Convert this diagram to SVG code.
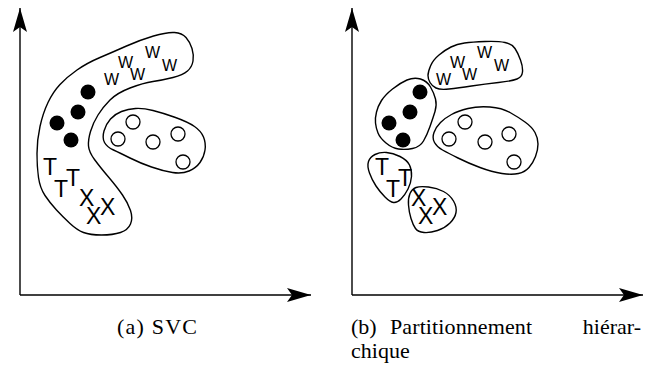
<svg xmlns="http://www.w3.org/2000/svg" width="655" height="374" viewBox="0 0 655 374">
<style>
.blob{fill:none;stroke:#000;stroke-width:1.4}
.axis{fill:none;stroke:#000;stroke-width:1.4}
.dot{fill:#000}
.ring{fill:#fff;stroke:#000;stroke-width:1.3}
.w{font-family:"Liberation Sans",Arial,sans-serif;font-size:16px;fill:#000}
.tx{font-family:"Liberation Sans",Arial,sans-serif;font-size:23px;fill:#000}
.cap{font-family:"Liberation Serif","Times New Roman",serif;font-size:22px;fill:#000}
</style>
<defs>
<marker id="arr" viewBox="0 0 24 14" refX="24" refY="7" markerWidth="24" markerHeight="14" markerUnits="userSpaceOnUse" orient="auto">
<path d="M0,0 L24,7 L0,14 L5,7 Z" fill="#000"/>
</marker>
</defs>
<rect width="655" height="374" fill="#fff"/>
<g id="axes">
<path class="axis" d="M20,295 V8" marker-end="url(#arr)"/>
<path class="axis" d="M20,295 H311" marker-end="url(#arr)"/>
<path class="axis" d="M352,295 V8" marker-end="url(#arr)"/>
<path class="axis" d="M352,295 H643" marker-end="url(#arr)"/>
</g>
<g id="svc-cluster-a">
<path class="blob" d="M153.5,36 Q167,32 174.5,32.5 Q182,33 186,37.5 Q190,42 192,48.5 Q194,55 193,61 Q192,67 187.5,71 Q183,75 173,77.5 Q163,80 153,81.5 Q143,83 130,88 Q117,93 110,100 Q103,107 98,115 Q93,123 90.5,131.5 Q88,140 88.5,146 Q89,152 94.5,159.5 Q100,167 108.5,177 Q117,187 122.5,195 Q128,203 130.5,210.5 Q133,218 130.5,224 Q128,230 120.5,232.5 Q113,235 101.5,235 Q90,235 83.5,232.5 Q77,230 70,223.5 Q63,217 56.5,210 Q50,203 45,195.5 Q40,188 38.5,177.5 Q37,167 37,153.5 Q37,140 40,126.5 Q43,113 48,102.5 Q53,92 60,84.5 Q67,77 77,70 Q87,63 100,57.5 Q113,52 126.5,46 Q140,40 153.5,36 Z"/>
<text class="w" x="104" y="85">W</text><text class="w" x="118" y="68">W</text><text class="w" x="130" y="80">W</text><text class="w" x="145" y="58">W</text><text class="w" x="162" y="71">W</text>
<circle class="dot" cx="88" cy="92" r="7.5"/><circle class="dot" cx="78" cy="112" r="7.5"/><circle class="dot" cx="57" cy="123" r="7.5"/><circle class="dot" cx="71" cy="140" r="7.5"/>
<text class="tx" x="43" y="175">T</text><text class="tx" x="54" y="197">T</text><text class="tx" x="66" y="186">T</text>
<text class="tx" x="79" y="206">X</text><text class="tx" x="86" y="224">X</text><text class="tx" x="100" y="215">X</text>
</g>
<g id="svc-cluster-b">
<path class="blob" d="M104.5,142.5 Q102,138 104,131 Q106,124 110.5,119 Q115,114 121.5,111.5 Q128,109 135.5,108.5 Q143,108 153,110.5 Q163,113 175.5,117.5 Q188,122 194.5,126.5 Q201,131 203.5,137 Q206,143 205,150 Q204,157 200,162.5 Q196,168 189,171 Q182,174 172.5,172.5 Q163,171 151.5,167 Q140,163 130,158 Q120,153 113.5,150 Q107,147 104.5,142.5 Z"/>
<circle class="ring" cx="133" cy="122" r="7"/><circle class="ring" cx="118" cy="139" r="7"/><circle class="ring" cx="153" cy="142" r="7"/><circle class="ring" cx="178" cy="134" r="7"/><circle class="ring" cx="183" cy="162" r="7"/>
</g>
<g id="hc-w">
<path class="blob" d="M428,75.5 Q428,72 430.5,66 Q433,60 439,55 Q445,50 451,47 Q457,44 464.5,43 Q472,42 485,41.5 Q498,41 505,42.5 Q512,44 515,48.5 Q518,53 520.5,60 Q523,67 522.5,72 Q522,77 517,79 Q512,81 498.5,82.5 Q485,84 471.5,86 Q458,88 449,89 Q440,90 436,88 Q432,86 430,82.5 Q428,79 428,75.5 Z"/>
<text class="w" x="436" y="85">W</text><text class="w" x="450" y="68">W</text><text class="w" x="462" y="80">W</text><text class="w" x="477" y="58">W</text><text class="w" x="494" y="71">W</text>
</g>
<g id="hc-dots">
<path class="blob" d="M375.5,123 Q375,118 376.5,112 Q378,106 381.5,100.5 Q385,95 392.5,89 Q400,83 407,80 Q414,77 420.5,79 Q427,81 430.5,87 Q434,93 435.5,99 Q437,105 435,111.5 Q433,118 430,126.5 Q427,135 423.5,141 Q420,147 412.5,148.5 Q405,150 398.5,149 Q392,148 386,143 Q380,138 378,133 Q376,128 375.5,123 Z"/>
<circle class="dot" cx="420" cy="92" r="7.5"/><circle class="dot" cx="410" cy="112" r="7.5"/><circle class="dot" cx="389" cy="123" r="7.5"/><circle class="dot" cx="403" cy="140" r="7.5"/>
</g>
<g id="hc-rings">
<path class="blob" d="M434.5,142.5 Q432,138 434,132.5 Q436,127 440.5,122.5 Q445,118 451.5,114.5 Q458,111 468,108.5 Q478,106 490,107 Q502,108 510,112.5 Q518,117 525,122 Q532,127 535,132.5 Q538,138 538,144 Q538,150 535.5,156.5 Q533,163 529,167.5 Q525,172 518.5,173.5 Q512,175 502,173.5 Q492,172 480,167.5 Q468,163 458,158 Q448,153 442.5,150 Q437,147 434.5,142.5 Z"/>
<circle class="ring" cx="465" cy="122" r="7"/><circle class="ring" cx="449" cy="139" r="7"/><circle class="ring" cx="485" cy="142" r="7"/><circle class="ring" cx="509" cy="134" r="7"/><circle class="ring" cx="514" cy="162" r="7"/>
</g>
<g id="hc-t">
<path class="blob" d="M369.5,173 Q367,166 368.5,161.5 Q370,157 375,154.5 Q380,152 386.5,152.5 Q393,153 400,156.5 Q407,160 409.5,165 Q412,170 411.5,176.5 Q411,183 408,189 Q405,195 401,199 Q397,203 393.5,202.5 Q390,202 385,197 Q380,192 376,186 Q372,180 369.5,173 Z"/>
<text class="tx" x="375" y="175">T</text><text class="tx" x="386" y="197">T</text><text class="tx" x="398" y="186">T</text>
</g>
<g id="hc-x">
<path class="blob" d="M408.5,205 Q408,198 410,193.5 Q412,189 416,187.5 Q420,186 428.5,187 Q437,188 443.5,191.5 Q450,195 453.5,201 Q457,207 456,212.5 Q455,218 450,223 Q445,228 437.5,230.5 Q430,233 424,232.5 Q418,232 415.5,228.5 Q413,225 411,218.5 Q409,212 408.5,205 Z"/>
<text class="tx" x="411" y="206">X</text><text class="tx" x="418" y="224">X</text><text class="tx" x="432" y="215">X</text>
</g>
<g id="captions">
<text class="cap" x="117" y="334" textLength="80" lengthAdjust="spacing">(a) SVC</text>
<text class="cap" x="351" y="334">(b)</text>
<text class="cap" x="390" y="334" textLength="142" lengthAdjust="spacing">Partitionnement</text>
<text class="cap" x="641" y="334" text-anchor="end">hiérar-</text>
<text class="cap" x="351" y="358">chique</text>
</g>
</svg>
